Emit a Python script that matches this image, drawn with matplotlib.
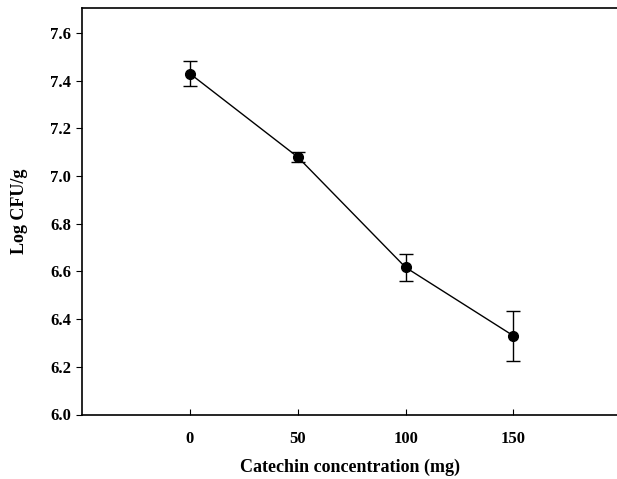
import numpy as np
import matplotlib.pyplot as plt

# Catechin dose vs. viable count
concentration = [0, 50, 100, 150]
log_cfu = [7.43, 7.08, 6.617, 6.33]
log_cfu_err = [0.051, 0.022, 0.058, 0.106]

plt.rcParams['font.family'] = ['Liberation Serif', 'DejaVu Serif']
plt.rcParams['font.weight'] = 'bold'

fig = plt.figure(figsize=(6.17, 4.79), dpi=100)
ax = fig.add_axes([82 / 617, 1 - 414.5 / 479, (617 - 82) / 617, (414.5 - 8) / 479])

ax.errorbar(concentration, log_cfu, yerr=log_cfu_err, color='black', marker='o',
            markersize=7, linewidth=1, elinewidth=1, capsize=5, capthick=1)

ax.set_xlim(-50, 198)
ax.set_ylim(6.0, 7.705)
ax.set_xticks(concentration)
ax.set_yticks(np.arange(6.0, 7.61, 0.2))
ax.set_yticklabels([f"{v:.1f}" for v in np.arange(6.0, 7.61, 0.2)])
ax.tick_params(axis='x', direction='in', length=4, labelsize=12, pad=12)
ax.tick_params(axis='y', direction='out', length=4, labelsize=12, pad=4)
for lbl in ax.get_xticklabels() + ax.get_yticklabels():
    lbl.set_fontweight('bold')

ax.spines['right'].set_visible(False)
for s in ['left', 'bottom', 'top']:
    ax.spines[s].set_linewidth(1.2)

ax.set_xlabel("Catechin concentration (mg)", fontsize=13, fontweight='bold', labelpad=8)
ax.set_ylabel("Log CFU/g", fontsize=13, fontweight='bold', labelpad=16)

fig.savefig("out.png", dpi=100)
